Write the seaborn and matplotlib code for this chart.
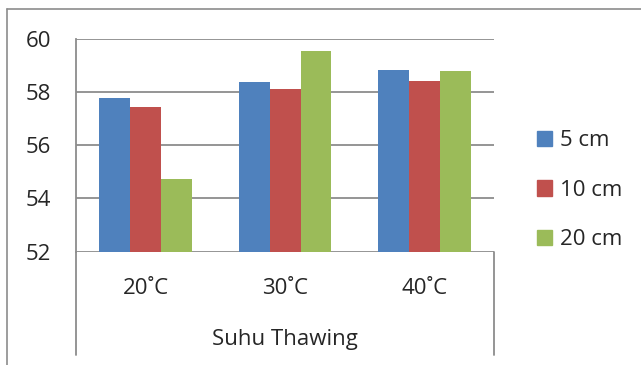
import pandas as pd
import matplotlib.pyplot as plt
import seaborn as sns
from matplotlib.lines import Line2D

# data
suhu = ['20˚C', '30˚C', '40˚C']
kedalaman = ['5 cm', '10 cm', '20 cm']
nilai_5cm = [57.75, 58.36, 58.83]
nilai_10cm = [57.42, 58.12, 58.39]
nilai_20cm = [54.72, 59.53, 58.78]
warna = ['#4F81BD', '#C0504D', '#9BBB59']
y_ticks = [52, 54, 56, 58, 60]

rows = []
for k, vals in zip(kedalaman, [nilai_5cm, nilai_10cm, nilai_20cm]):
    for s, v in zip(suhu, vals):
        rows.append({'suhu': s, 'kedalaman': k, 'nilai': v})
df = pd.DataFrame(rows)

sns.set_style('white')
plt.rcParams['font.family'] = ['Open Sans', 'DejaVu Sans']
fs = 16

fig = plt.figure(figsize=(6.41, 3.65), dpi=100)
ax = fig.add_axes([0.1186, 0.3104, 0.7707 - 0.1186, 0.8945 - 0.3104])

sns.barplot(data=df, x='suhu', y='nilai', hue='kedalaman', palette=warna,
            width=0.667, saturation=1, linewidth=0, ax=ax, legend=False)

ax.set_ylim(52, 60)
ax.set_yticks(y_ticks)
ax.set_xlim(-0.5, 2.5)
ax.set_xlabel('')
ax.set_ylabel('')
ax.set_xticks([])
ax.tick_params(axis='y', labelsize=fs, length=0, pad=18)
ax.yaxis.grid(True, color='#8c8c8c', linewidth=1.3)
ax.set_axisbelow(True)
for side in ['top', 'right', 'bottom']:
    ax.spines[side].set_visible(False)
ax.spines['left'].set_color('#8c8c8c')
ax.spines['left'].set_linewidth(1.3)
ax.spines['left'].set_bounds(52, 60)

# two-level category axis below the plot
bottom = -0.485
for xa in [0, 1]:
    ax.add_line(Line2D([xa, xa], [bottom, 0], transform=ax.transAxes,
                       color='#8c8c8c', linewidth=1.3, clip_on=False))
for i, s in enumerate(suhu):
    ax.text((i + 0.5) / 3, -0.174, s, transform=ax.transAxes,
            ha='center', va='center', fontsize=fs)
ax.text(0.5, -0.414, 'Suhu Thawing', transform=ax.transAxes,
        ha='center', va='center', fontsize=fs)

# outer chart frame (left and top edges visible)
fig.add_artist(Line2D([0.011, 0.011], [0, 0.975], transform=fig.transFigure,
                      color='#8c8c8c', linewidth=1.2))
fig.add_artist(Line2D([0.011, 1], [0.975, 0.975], transform=fig.transFigure,
                      color='#8c8c8c', linewidth=1.2))

handles = [plt.Rectangle((0, 0), 1, 1, color=c) for c in warna]
fig.legend(handles, kedalaman, loc='center left', bbox_to_anchor=(0.821, 0.479),
           frameon=False, fontsize=fs, handlelength=0.68, handleheight=0.68,
           handletextpad=0.35, labelspacing=1.28, borderpad=0)

plt.savefig('out.png', dpi=100)
